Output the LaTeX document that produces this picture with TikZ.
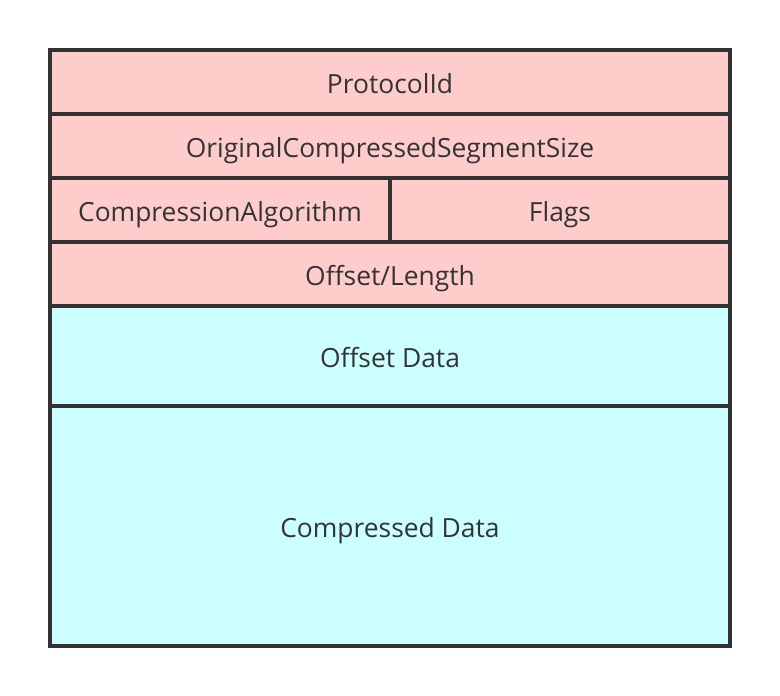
\documentclass[tikz,border=0pt]{standalone}
\usepackage{fontspec}
\setmainfont{Open Sans}
\definecolor{hdr}{HTML}{FFCCCC}
\definecolor{dat}{HTML}{CCFFFF}
\definecolor{ln}{HTML}{333333}
\begin{document}
\begin{tikzpicture}[x=1bp,y=-1bp,
  rule/.style={draw=ln,line width=4bp},
  lbl/.style={text=ln,font=\fontsize{26.5}{30}\selectfont,inner sep=0pt,anchor=base}]
\useasboundingbox (0,0) rectangle (780,696);
\fill[hdr] (50,50) rectangle (730,306);
\fill[dat] (50,306) rectangle (730,646);
\draw[rule] (50,114) -- (730,114);
\draw[rule] (50,178) -- (730,178);
\draw[rule] (50,242) -- (730,242);
\draw[rule] (50,306) -- (730,306);
\draw[rule] (50,406) -- (730,406);
\draw[rule] (390,178) -- (390,242);
\draw[rule] (50,50) rectangle (730,646);
\node[lbl] (p) at (390,93.5) {ProtocolId};
\node[lbl] (o) at (390,157.5) {OriginalCompressedSegmentSize};
\node[lbl] (c) at (220,221.5) {CompressionAlgorithm};
\node[lbl] (f) at (560,221.5) {Flags};
\node[lbl] (l) at (390,285.5) {Offset/Length};
\node[lbl] (d) at (390,367.5) {Offset Data};
\node[lbl] (cd) at (390,537.5) {Compressed Data};
\end{tikzpicture}
\end{document}
